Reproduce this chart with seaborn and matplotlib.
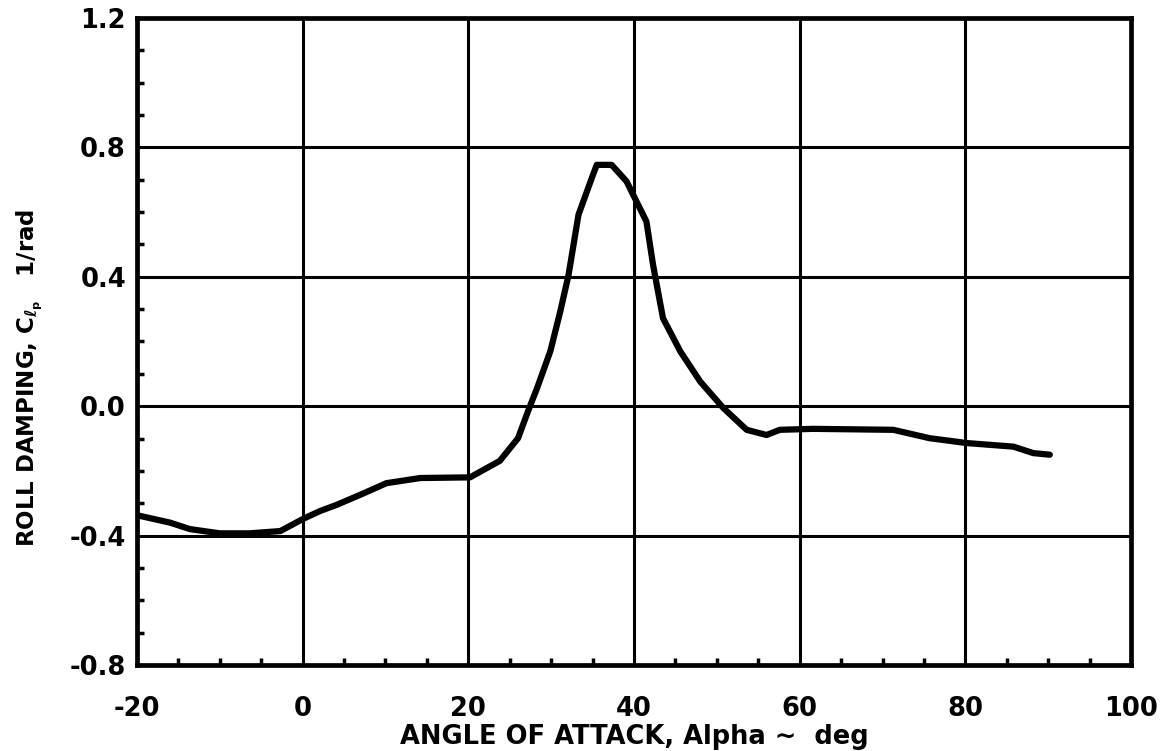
import numpy as np
import pandas as pd
import matplotlib
matplotlib.use("Agg")
import matplotlib.pyplot as plt
import seaborn as sns
from matplotlib.ticker import MultipleLocator

alpha_deg = [-20, -16, -13.6, -10, -6.4, -2.7, 0, 2.1, 4.1, 7.3, 10.1, 14.2, 20.2,
             23.8, 26, 27.2, 28.3, 29.9, 31.1, 32.1, 33.3, 34.9, 35.5, 37.3, 39.1,
             41.5, 42.3, 43.5, 45.6, 48, 50.8, 53.6, 56, 57.6, 61.6, 71.3, 75.7,
             80.2, 85.8, 88.2, 90.2]
clp = [-0.337, -0.36, -0.38, -0.393, -0.393, -0.386, -0.349, -0.324, -0.305, -0.27,
       -0.238, -0.222, -0.22, -0.169, -0.099, -0.016, 0.056, 0.17, 0.293, 0.406,
       0.592, 0.705, 0.746, 0.746, 0.695, 0.571, 0.437, 0.272, 0.169, 0.076,
       -0.006, -0.073, -0.089, -0.073, -0.07, -0.073, -0.099, -0.114, -0.125,
       -0.145, -0.15]
x_ticks = [-20, 0, 20, 40, 60, 80, 100]
y_ticks = [-0.8, -0.4, 0.0, 0.4, 0.8, 1.2]
x_tick_labels = ["-20", "0", "20", "40", "60", "80", "100"]
y_tick_labels = ["-0.8", "-0.4", "0.0", "0.4", "0.8", "1.2"]

df = pd.DataFrame({"alpha": alpha_deg, "clp": clp})

sns.set_style("white")
plt.rcParams["font.family"] = ["DejaVu Sans"]
plt.rcParams["font.weight"] = "bold"
plt.rcParams["text.color"] = "black"
plt.rcParams["axes.labelcolor"] = "black"
plt.rcParams["xtick.color"] = "black"
plt.rcParams["ytick.color"] = "black"
plt.rcParams["mathtext.fontset"] = "custom"
plt.rcParams["mathtext.rm"] = "DejaVu Sans:bold"
plt.rcParams["mathtext.it"] = "DejaVu Sans:bold"
plt.rcParams["mathtext.bf"] = "DejaVu Sans:bold"

fig = plt.figure(figsize=(11.62, 7.51), dpi=100)
ax = fig.add_axes([137 / 1162, 1 - 665 / 751, (1131 - 137) / 1162, (665 - 18) / 751])

sns.lineplot(data=df, x="alpha", y="clp", ax=ax, color="black", linewidth=4.5,
             sort=False, solid_capstyle="round", solid_joinstyle="round")

ax.set_xlim(-20, 100)
ax.set_ylim(-0.8, 1.2)
ax.set_xticks(x_ticks)
ax.set_xticklabels(x_tick_labels)
ax.set_yticks(y_ticks)
ax.set_yticklabels(y_tick_labels)
ax.xaxis.set_minor_locator(MultipleLocator(5))
ax.yaxis.set_minor_locator(MultipleLocator(0.1))
ax.tick_params(axis="x", which="major", length=0, labelsize=18.5, pad=22)
ax.tick_params(axis="y", which="major", length=0, labelsize=18.5, pad=8)
ax.tick_params(axis="both", which="minor", direction="in", length=5, width=2.5,
               color="black", bottom=True, left=True)

ax.grid(True, which="major", color="black", linewidth=2.2)
for s in ax.spines.values():
    s.set_color("black")
    s.set_linewidth(3.4)

ax.set_xlabel("ANGLE OF ATTACK, Alpha \u223c  deg", fontsize=18.5, fontweight="bold",
              color="black", labelpad=2)
ax.set_ylabel(r"ROLL DAMPING, $C_{\ell_{p}}$   1/rad", fontsize=16.5, fontweight="bold",
              color="black")
ax.yaxis.set_label_coords(-0.093, 0.444)

fig.savefig("out.png", dpi=100)
